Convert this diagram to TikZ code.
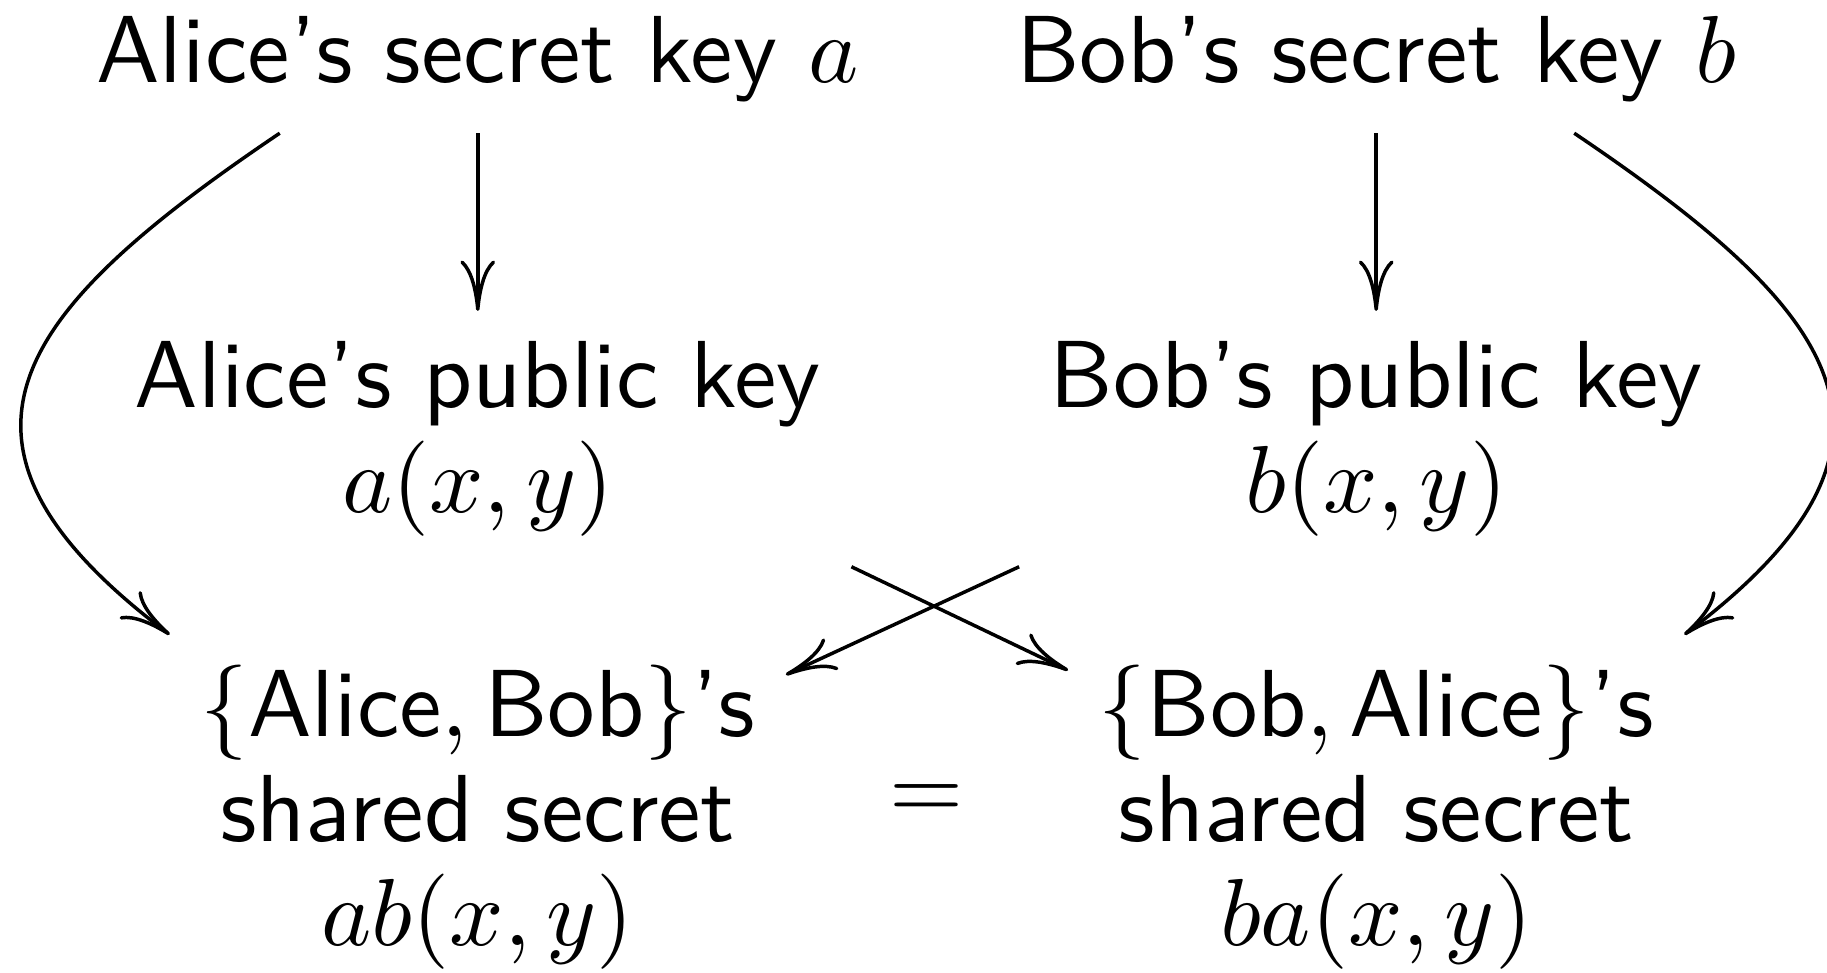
\documentclass[tikz,border=0pt]{standalone}
\usetikzlibrary{arrows.meta}

\begin{document}
\begin{tikzpicture}[
  every node/.style={
    font=\sffamily\fontsize{10.95}{12}\selectfont,
    align=center,
    anchor=base
  },
  arrow/.style={-{To[length=5.8pt,width=4pt]}}
]
\useasboundingbox (0,0) rectangle (7.38,-3.93);

% Secret keys
\node (secA) at (1.93,-0.335) {Alice's secret key $a$};
\node (secB) at (5.559,-0.335) {Bob's secret key $b$};

% Public keys
\node (pubA) at (1.93,-2.069) {Alice's public key\\ $a(x,y)$};
\node (pubB) at (5.559,-2.069) {Bob's public key\\ $b(x,y)$};

% Shared secrets
\node (shA) at (1.93,-3.82) {$\{\mbox{Alice}, \mbox{Bob}\}$'s\\ shared secret\\ $ab(x,y)$};
\node (shB) at (5.559,-3.82) {$\{\mbox{Bob}, \mbox{Alice}\}$'s\\ shared secret\\ $ba(x,y)$};
\node[anchor=center] (eq) at (3.742,-3.238) {$=$};

% Arrows
\draw[arrow] (secA) -- (pubA);
\draw[arrow] (secB) -- (pubB);
\draw[arrow] ([xshift=-8mm]secA.south) to[out=214,in=143,looseness=1.6] (shA.north west);
\draw[arrow] ([xshift=8mm]secB.south) to[out=-34,in=37,looseness=1.6] (shB.north east);
\draw[arrow] (pubB.south west) -- (shA);
\draw[arrow] (pubA.south east) -- (shB);

\end{tikzpicture}
\end{document}
